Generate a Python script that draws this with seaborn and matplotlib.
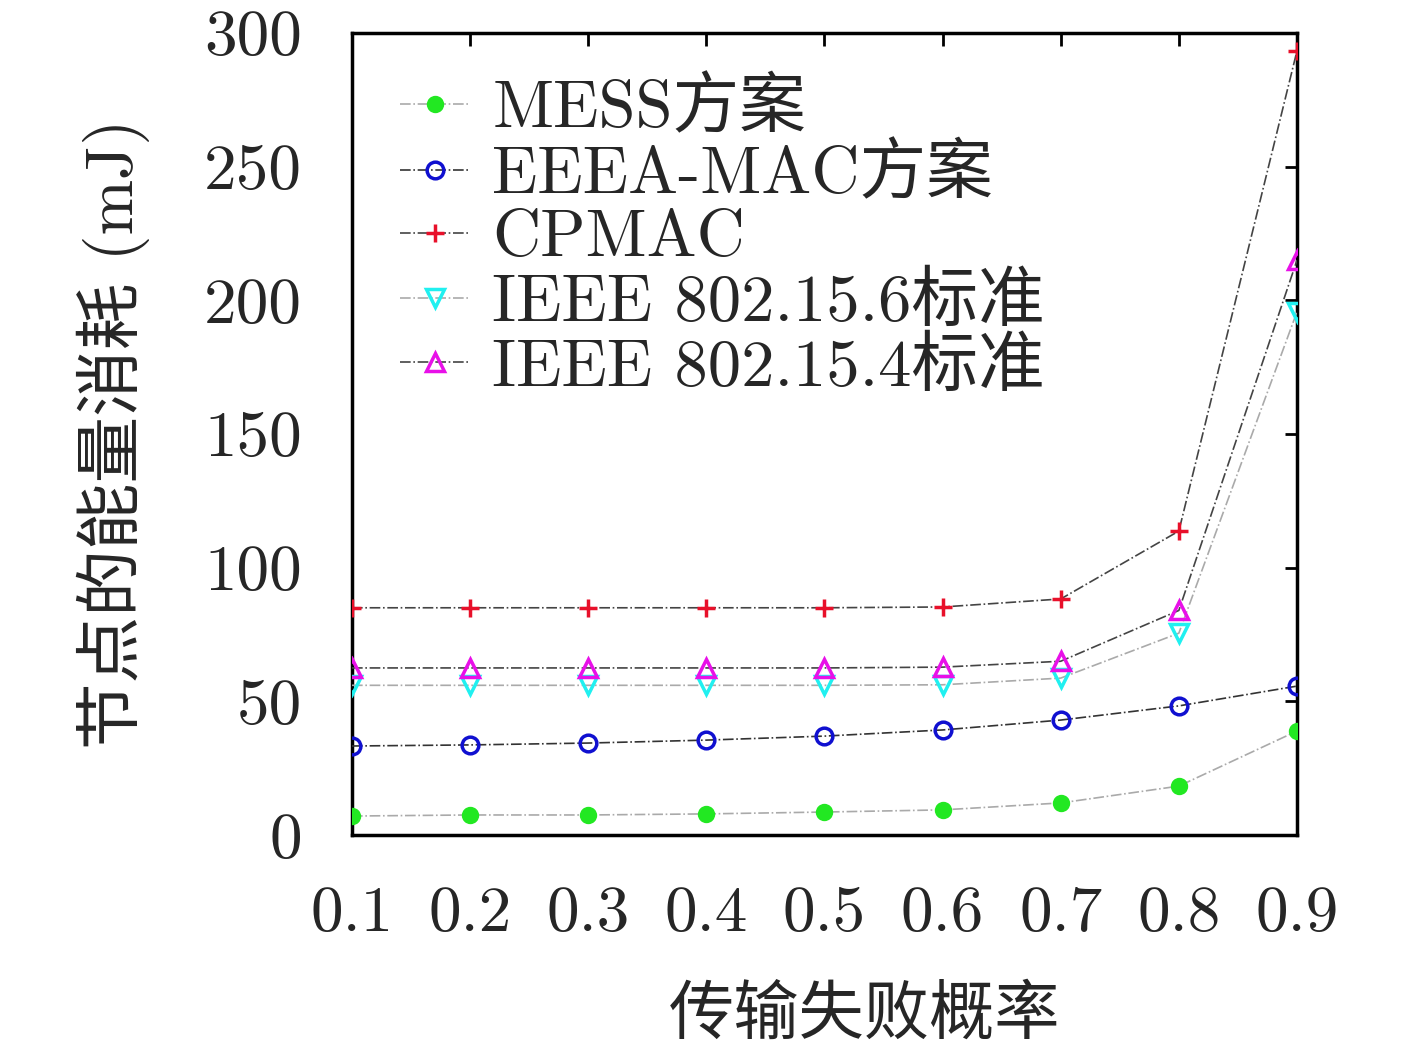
import matplotlib
matplotlib.use("Agg")
import matplotlib.pyplot as plt
import seaborn as sns
import pandas as pd

sns.set_theme(style="white")
plt.rcParams['font.family'] = ['cmr10', 'Noto Sans CJK SC', 'DejaVu Sans']
plt.rcParams['axes.formatter.use_mathtext'] = True
plt.rcParams['axes.unicode_minus'] = False

x_vals = [0.1, 0.2, 0.3, 0.4, 0.5, 0.6, 0.7, 0.8, 0.9]
mess = [7.1, 7.5, 7.5, 7.9, 8.6, 9.4, 12.0, 18.3, 38.9]
eeea = [33.3, 33.7, 34.4, 35.5, 37.0, 39.3, 43.0, 48.3, 55.7]
cpmac = [85.0, 85.0, 85.0, 85.0, 85.0, 85.3, 88.3, 113.7, 293.3]
ieee6 = [56.0, 56.0, 56.0, 56.0, 56.0, 56.2, 58.7, 75.5, 195.7]
ieee4 = [62.5, 62.5, 62.5, 62.5, 62.5, 62.8, 65.0, 84.0, 215.0]

labels = ['MESS方案', 'EEEA-MAC方案', 'CPMAC', 'IEEE 802.15.6标准', 'IEEE 802.15.4标准']
yticks = [0, 50, 100, 150, 200, 250, 300]

fig = plt.figure(figsize=(14.17, 10.51), dpi=100)
ax = fig.add_axes([0.2484, 0.2055, 0.9153 - 0.2484, 0.9686 - 0.2055])

styles = [
    dict(marker='o', mfc='#22e822', mec='#22e822', ms=10, line='#aaaaaa'),
    dict(marker='o', mfc='none', mec='#1010d0', ms=12, line='#333333'),
    dict(marker='+', mfc='#e8102a', mec='#e8102a', ms=13, line='#444444'),
    dict(marker='v', mfc='none', mec='#20f0f0', ms=13, line='#aaaaaa'),
    dict(marker='^', mfc='none', mec='#e810e8', ms=13, line='#444444'),
]
series = [mess, eeea, cpmac, ieee6, ieee4]

for vals, lab, st in zip(series, labels, styles):
    df = pd.DataFrame({'x': x_vals, 'y': vals})
    sns.lineplot(data=df, x='x', y='y', ax=ax, label=lab, color=st['line'],
                 linestyle='-.', linewidth=1.2, marker=st['marker'],
                 markersize=st['ms'], markerfacecolor=st['mfc'],
                 markeredgecolor=st['mec'], markeredgewidth=2.5, zorder=3)

ax.set_xlim(0.1, 0.9)
ax.set_ylim(0, 300)
ax.set_xticks(x_vals)
ax.set_xticklabels([f"{v:.1f}" for v in x_vals])
ax.set_yticks(yticks)
ax.set_yticklabels([str(v) for v in yticks])
ax.tick_params(direction='in', length=9, width=2, top=True, right=True,
               labelsize=47, color='black')
ax.tick_params(axis='x', pad=37)
ax.tick_params(axis='y', pad=36)
for s in ax.spines.values():
    s.set_color('black')
    s.set_linewidth(2.5)

ax.set_xlabel('传输失败概率', fontsize=47,
              family=['Noto Sans CJK SC', 'DejaVu Sans'])
ax.xaxis.set_label_coords(0.542, -0.183)
ax.set_ylabel('节点的能量消耗 (mJ)', fontsize=48, labelpad=39,
              family=['cmr10', 'Noto Sans CJK SC', 'DejaVu Sans'])

leg = ax.legend(loc='upper left', bbox_to_anchor=(0.051, 0.944), frameon=False,
                fontsize=48, handlelength=1.05, handletextpad=0.33,
                labelspacing=0.05, borderaxespad=0.0, borderpad=0.0)
for t in leg.get_texts():
    t.set_family(['cmr10', 'Noto Sans CJK SC', 'DejaVu Sans'])

fig.savefig('out.png', dpi=100, facecolor='white')
